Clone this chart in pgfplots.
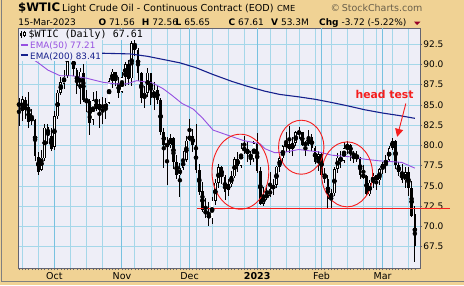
\documentclass[border=0pt]{standalone}
\usepackage{pgfplots}
\pgfplotsset{compat=1.18}
\usepackage{pgfplotstable}
\usepackage{fontspec}
\setmainfont{DejaVu Sans}
\newfontfamily\monofont{DejaVu Sans Mono}
\usetikzlibrary{arrows.meta}
\definecolor{tanbg}{RGB}{240,210,148}
\definecolor{plotbg}{RGB}{238,238,247}
\definecolor{gridc}{RGB}{165,215,233}
\definecolor{monthc}{RGB}{120,194,224}
\definecolor{ema50}{RGB}{150,80,225}
\definecolor{ema200}{RGB}{22,32,140}
\definecolor{annot}{RGB}{245,30,30}
\definecolor{frameg}{RGB}{100,100,112}
\definecolor{copyc}{RGB}{105,95,75}
\definecolor{darkred}{RGB}{150,0,40}

\pgfplotstableread{
i O H L C
0 85.0 85.9 82.4 85.1
1 84.3 86.1 83.0 85.7
2 85.6 86.0 83.3 84.4
3 84.7 86.6 82.1 82.9
4 83.0 84.5 82.5 83.5
5 83.2 83.3 78.1 78.7
6 78.6 79.2 76.3 76.7
7 77.0 79.4 76.8 78.5
8 78.4 82.6 78.1 82.2
9 82.3 82.7 80.2 81.2
10 81.2 82.1 79.3 79.5
11 79.8 84.2 79.4 83.6
12 83.6 86.8 83.3 86.5
13 86.5 88.4 86.2 87.8
14 87.6 89.3 87.0 88.5
15 88.6 92.8 88.3 92.6
16 92.6 93.6 90.5 91.1
17 90.9 91.6 88.6 89.4
18 89.3 89.6 86.3 87.3
19 87.0 89.6 85.1 89.1
20 89.0 90.0 85.4 85.6
21 85.6 86.8 84.1 85.5
22 85.5 85.7 81.3 82.8
23 83.2 86.6 82.5 85.6
24 85.4 86.7 84.3 84.5
25 84.4 85.7 82.1 85.1
26 85.0 86.0 82.6 84.6
27 84.5 85.8 83.3 85.3
28 85.3 88.3 85.1 87.9
29 88.0 89.4 87.1 89.1
30 89.1 89.1 87.3 87.9
31 87.7 88.4 85.8 86.5
32 86.6 89.1 86.5 88.4
33 88.5 90.3 87.3 90.0
34 90.0 90.5 87.5 88.2
35 88.3 92.9 87.4 92.6
36 92.5 93.7 91.1 91.8
37 91.8 92.0 88.0 88.9
38 88.9 89.1 85.3 85.8
39 85.8 87.4 84.6 86.5
40 86.5 89.6 86.0 89.0
41 88.9 89.0 85.0 85.9
42 85.9 87.8 84.4 86.9
43 86.9 87.3 85.1 85.6
44 85.6 85.8 81.3 81.6
45 81.6 82.1 77.2 80.1
46 80.1 81.0 75.1 80.0
47 80.0 81.4 79.7 80.9
48 80.9 81.0 77.1 77.9
49 78.0 78.8 75.8 76.3
50 76.3 77.8 73.6 77.2
51 77.2 79.3 77.0 78.2
52 78.2 81.2 78.0 80.6
53 80.7 83.3 80.5 81.2
54 81.2 82.0 79.2 80.0
55 80.0 82.7 76.6 77.0
56 77.0 77.7 73.9 74.3
57 74.4 75.5 71.8 72.0
58 72.0 73.5 71.1 71.5
59 71.5 73.0 70.1 71.0
60 71.0 73.6 70.3 73.2
61 73.2 75.8 72.7 75.4
62 75.4 77.7 74.8 77.3
63 77.3 77.5 75.2 76.1
64 76.1 76.4 73.3 74.3
65 74.5 75.9 73.7 75.2
66 75.2 76.9 74.9 76.2
67 76.2 78.6 76.0 78.3
68 78.3 79.2 76.7 77.5
69 77.5 80.3 77.2 79.6
70 79.6 81.2 79.0 79.5
71 79.5 80.4 78.0 79.0
72 79.0 79.3 77.6 78.4
73 78.4 80.5 77.9 80.3
74 80.3 81.5 76.6 76.9
75 76.9 77.3 72.7 72.8
76 72.8 74.9 72.5 73.7
77 73.7 75.1 73.3 73.8
78 73.8 76.7 73.6 74.6
79 74.6 75.8 73.9 75.1
80 75.1 77.5 74.8 77.4
81 77.4 78.7 76.7 78.4
82 78.4 80.1 77.8 79.9
83 79.9 81.6 79.2 80.2
84 80.2 82.4 79.1 79.5
85 79.5 81.0 78.7 80.3
86 80.3 81.8 79.9 81.6
87 81.6 82.3 80.8 81.6
88 81.6 81.7 79.9 80.1
89 80.1 80.6 78.7 80.2
90 80.2 81.9 79.9 81.0
91 81.0 81.4 79.3 79.7
92 79.7 79.9 77.7 77.9
93 77.9 79.3 76.8 78.9
94 78.9 79.1 76.2 76.4
95 76.4 77.2 75.4 75.9
96 75.9 76.3 72.3 73.4
97 73.4 74.6 72.3 74.1
98 74.1 77.4 73.8 77.1
99 77.1 79.1 76.6 78.5
100 78.5 79.3 77.2 78.1
101 78.1 80.4 77.8 79.7
102 79.7 80.5 78.9 80.1
103 80.1 80.2 78.1 79.1
104 79.1 79.3 77.8 78.6
105 78.6 79.3 78.0 78.5
106 78.5 78.6 75.8 76.3
107 76.3 77.6 75.9 76.2
108 76.2 76.3 73.8 73.95
109 73.95 75.7 73.8 75.4
110 75.4 76.6 74.7 76.3
111 76.3 76.4 74.5 75.7
112 75.7 77.2 75.1 77.05
113 77.05 78.0 76.5 77.7
114 77.7 78.8 76.6 78.2
115 78.2 79.9 77.9 79.7
116 79.7 80.9 79.5 80.5
117 80.5 80.7 77.1 77.6
118 77.6 77.9 76.2 76.7
119 76.7 77.7 75.4 75.7
120 75.7 77.4 74.7 76.7
121 76.7 77.3 73.8 74.8
122 74.8 75.6 71.2 71.3
123 71.56 72.56 65.65 67.61
}\ohlc

\pgfplotstableread{
i p
0 91.6
3 91.0
6 90.2
9 89.3
12.8 88.6
16.5 88.6
21 88.3
26.1 87.8
30 87.6
33.5 87.6
36.6 88.0
41.6 87.7
44.8 87.0
47.5 86.2
50.6 85.2
54.1 84.5
57 83.4
60.3 81.9
64.6 81.3
69.8 80.6
74.9 80.2
76.4 79.6
79.5 79.1
83 79.2
86.9 79.5
93.1 79.2
97.2 78.8
102.8 78.6
107.5 78.3
112 78.1
116 78.0
119 77.9
123 77.2
}\emafifty

\pgfplotstableread{
i p
0 92.3
10 91.9
20 91.55
24.3 91.4
34.5 91.3
40 91.0
45 90.6
50 90.2
55 89.6
60 88.8
66.2 87.9
71 87.3
76.4 86.7
81 86.3
86.9 86.0
92 85.7
97.2 85.3
102 84.9
107.5 84.4
113 84.0
118 83.7
123 83.35
}\ematwohundred

\begin{document}
\begin{tikzpicture}
\useasboundingbox (0pt,0pt) rectangle (464pt,285pt);
\fill[tanbg] (0pt,0pt) rectangle (464pt,285pt);
\draw[gray, line width=1.2pt] (1.7pt,285pt) -- (1.7pt,3.3pt) -- (464pt,3.3pt);
\begin{axis}[
  at={(18pt,17pt)}, anchor=south west,
  scale only axis, width=402pt, height=240pt,
  xmin=-0.3, xmax=124.6, ymin=64.87, ymax=94.5,
  axis background/.style={fill=plotbg},
  axis line style={frameg, line width=0.9pt},
  clip=false,
  tick align=outside,
  major tick length=2pt, minor tick length=2pt,
  tick style={frameg, line width=0.6pt},
  xtick pos=left, ytick pos=right, yticklabel pos=right,
  xtick={1,6,16,21,26,36,41,46,50,55,60,65,70,78,83,87,92,97,102,107,111,116,121},
  xticklabels={},
  minor xtick={0,1,...,123},
  extra x ticks={11,32,53,74,94,113},
  extra x tick labels={Oct,Nov,Dec,\textbf{2023},Feb,Mar},
  extra x tick style={major grid style={monthc, line width=1pt}},
  xmajorgrids, ymajorgrids,
  grid style={gridc, line width=0.75pt},
  ytick={67.5,70,...,92.5},
  /pgf/number format/.cd, fixed, fixed zerofill, precision=1, assume math mode=true,
  /pgfplots/.cd,
  yticklabel style={font=\fontsize{9}{10}\selectfont, anchor=west, inner sep=0pt, xshift=1.2pt},
  xticklabel style={font=\fontsize{9.5}{10}\selectfont, inner sep=0pt, text height=7pt, yshift=-2.5pt},
]
% wicks
\addplot[only marks, mark=none,
  error bars/.cd, y dir=both, y explicit, error mark=none,
  error bar style={draw=black, line width=0.9pt}]
  table[x=i, y expr={(\thisrow{H}+\thisrow{L})/2}, y error expr={(\thisrow{H}-\thisrow{L})/2}] {\ohlc};
% bodies
\addplot[only marks, mark=none,
  error bars/.cd, y dir=both, y explicit, error mark=none,
  error bar style={draw=black, line width=2.7pt}]
  table[x=i, y expr={(\thisrow{O}+\thisrow{C})/2}, y error expr={max(abs(\thisrow{C}-\thisrow{O})/2,0.06)}] {\ohlc};
% hollow interiors for up candles
\addplot[only marks, mark=none,
  error bars/.cd, y dir=both, y explicit, error mark=none,
  error bar style={draw=white, line width=1.2pt}]
  table[x=i, y expr={(\thisrow{O}+\thisrow{C})/2}, y error expr={(\thisrow{C}>\thisrow{O})*max(abs(\thisrow{C}-\thisrow{O})/2-0.086,0)}] {\ohlc};
% EMAs
\addplot[ema50, line width=0.9pt, mark=none] table[x=i, y=p] {\emafifty};
\addplot[ema200, line width=1.1pt, mark=none] table[x=i, y=p] {\ematwohundred};
% annotations
\draw[annot, line width=0.9pt] (axis cs:68.79,76.76) ellipse [x radius=28.4pt, y radius=37.5pt];
\draw[annot, line width=0.9pt] (axis cs:87.7,79.78) ellipse [x radius=22.7pt, y radius=27pt];
\draw[annot, line width=0.9pt] (axis cs:101.96,76.43) ellipse [x radius=25.5pt, y radius=32.5pt];
\draw[annot, line width=1.2pt] (axis cs:55.4,72.22) -- (axis cs:133.9,72.22);
\draw[annot, line width=0.9pt, -{Triangle[length=8pt,width=8pt]}] (axis cs:120.2,85.18) -- (axis cs:117.5,81.06);
\node[annot, anchor=base, inner sep=0pt, font=\fontsize{10.8}{11}\selectfont\bfseries] at (axis cs:113.6,85.83) {head test};
\end{axis}
% legend rows
\fill[plotbg] (18.5pt,245pt) rectangle (150pt,256.5pt);
\fill[plotbg] (18.5pt,224pt) rectangle (102pt,245pt);
\draw[black, line width=0.6pt] (21pt,247pt) -- (21pt,254.5pt);
\fill[black] (20.1pt,249pt) rectangle (21.9pt,252.5pt);
\draw[black, line width=0.6pt] (24.2pt,248pt) -- (24.2pt,254pt);
\draw[black, fill=white, line width=0.5pt] (23.4pt,249.5pt) rectangle (25pt,252.5pt);
\node[anchor=base west, inner sep=0pt] at (28.3pt,247.7pt) {\monofont\fontsize{10}{10}\selectfont \$WTIC (Daily) 67.61};
\draw[ema50, line width=2pt] (20.7pt,240.5pt) -- (28.3pt,240.5pt);
\node[anchor=base west, inner sep=0pt, text=ema50] at (30pt,236.7pt) {\fontsize{8.8}{9}\selectfont EMA(50) 77.21};
\draw[ema200, line width=2pt] (20.7pt,229.8pt) -- (28.3pt,229.8pt);
\node[anchor=base west, inner sep=0pt, text=ema200] at (30pt,225.7pt) {\fontsize{8.8}{9}\selectfont EMA(200) 83.41};
% title line 1
\node[anchor=base west, inner sep=0pt] at (18pt,274pt) {\fontsize{11.7}{12}\selectfont\bfseries \$WTIC};
\node[anchor=base west, inner sep=0pt] at (62pt,274pt) {\fontsize{9.6}{10}\selectfont Light Crude Oil - Continuous Contract (EOD)};
\node[anchor=base west, inner sep=0pt] at (277pt,274pt) {\fontsize{8.3}{9}\selectfont CME};
\node[anchor=base west, inner sep=0pt, text=copyc] at (330.5pt,273.5pt) {\fontsize{9.5}{10}\selectfont ©\,StockCharts.com};
% title line 2
\node[anchor=base west, inner sep=0pt] at (18.3pt,259.3pt) {\fontsize{9}{10}\selectfont 15-Mar-2023};
\node[anchor=base west, inner sep=0pt] at (98.3pt,259.3pt) {\fontsize{9}{10}\selectfont\textbf{O} 71.56};
\node[anchor=base west, inner sep=0pt] at (141.7pt,259.3pt) {\fontsize{9}{10}\selectfont\textbf{H} 72.56};
\node[anchor=base west, inner sep=0pt] at (175.5pt,259.3pt) {\fontsize{9}{10}\selectfont\textbf{L} 65.65};
\node[anchor=base west, inner sep=0pt] at (228.5pt,259.3pt) {\fontsize{9}{10}\selectfont\textbf{C} 67.61};
\node[anchor=base west, inner sep=0pt] at (271pt,259.3pt) {\fontsize{9}{10}\selectfont\textbf{V} 53.3M};
\node[anchor=base west, inner sep=0pt] at (319pt,259.3pt) {\fontsize{9}{10}\selectfont\textbf{Chg} -3.72 (-5.22\%)};
\fill[darkred] (414pt,263.3pt) -- (420.3pt,263.3pt) -- (417.15pt,260pt) -- cycle;
\end{tikzpicture}
\end{document}
